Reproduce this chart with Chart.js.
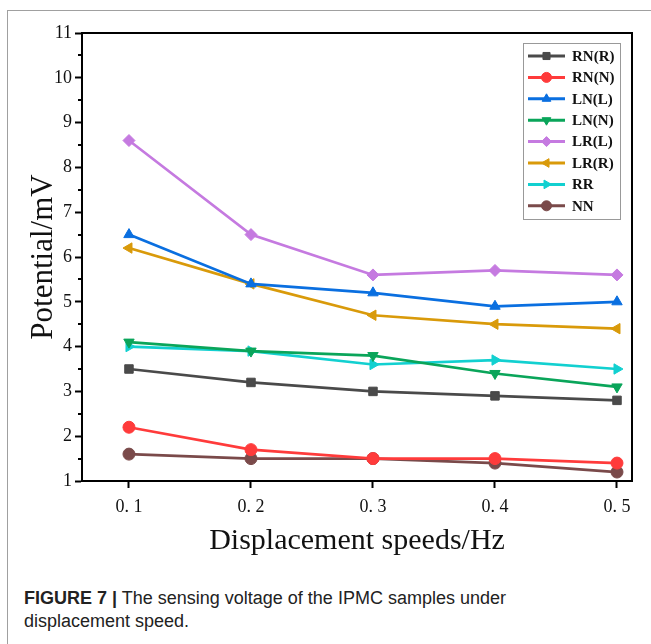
<!DOCTYPE html>
<html>
<head>
<meta charset="utf-8">
<script src="https://cdn.jsdelivr.net/npm/chart.js@4"></script>
<style>
  body { margin: 0; background: #fff; width: 651px; height: 644px; overflow: hidden; position: relative; }
  #card { position: absolute; left: 7px; top: 10px; width: 700px; height: 700px;
          border-left: 1px solid #a0a0a0; border-top: 1px solid #a0a0a0; }
  #wrap { position: absolute; left: 0; top: 0; width: 651px; height: 560px; }
  #caption { position: absolute; left: 24px; top: 587px; font-family: "Liberation Sans", Arial, sans-serif;
             font-size: 18px; line-height: 23px; color: #222; }
  #caption b { font-weight: bold; }
</style>
</head>
<body>
<div id="card"></div>
<div id="wrap"><canvas id="chart" width="651" height="560"></canvas></div>
<div id="caption"><b>FIGURE 7 |</b> The sensing voltage of the IPMC samples under<br>displacement speed.</div>
<script>
// data
var speeds = [0.1, 0.2, 0.3, 0.4, 0.5];
var rnR = [3.5, 3.2, 3.0, 2.9, 2.8];
var rnN = [2.2, 1.7, 1.5, 1.5, 1.4];
var lnL = [6.5, 5.4, 5.2, 4.9, 5.0];
var lnN = [4.1, 3.9, 3.8, 3.4, 3.1];
var lrL = [8.6, 6.5, 5.6, 5.7, 5.6];
var lrR = [6.2, 5.4, 4.7, 4.5, 4.4];
var rr  = [4.0, 3.9, 3.6, 3.7, 3.5];
var nn  = [1.6, 1.5, 1.5, 1.4, 1.2];
var yTicks = [1, 2, 3, 4, 5, 6, 7, 8, 9, 10, 11];
var yMinor = [1.5, 2.5, 3.5, 4.5, 5.5, 6.5, 7.5, 8.5, 9.5, 10.5];

function series(label, values, color, style, rot) {
    return {
        label: label,
        data: values.map(function (v, i) { return { x: speeds[i], y: v }; }),
        borderColor: color,
        backgroundColor: color,
        borderWidth: 2.7,
        pointStyle: style,
        rotation: rot || 0,
        pointRadius: 6,
        pointBorderWidth: 1,
        tension: 0
    };
}

var datasets = [
    series("RN(R)", rnR, "#4a4a4a", "rect"),
    series("RN(N)", rnN, "#ff3b3b", "circle"),
    series("LN(L)", lnL, "#0a6fe0", "triangle"),
    series("LN(N)", lnN, "#0aa55a", "triangle", 180),
    series("LR(L)", lrL, "#c57ae0", "rectRot"),
    series("LR(R)", lrR, "#d99a0a", "triangle", -90),
    series("RR", rr, "#12d0d0", "triangle", 90),
    series("NN", nn, "#7a4a4a", "circle")
];

// frame around the plot, minor ticks, legend box inside it
var framePlugin = {
    id: "frame",
    afterDraw: function (chart) {
        var ctx = chart.ctx, a = chart.chartArea;
        ctx.save();
        ctx.strokeStyle = "#000";
        ctx.lineWidth = 2;
        ctx.strokeRect(a.left, a.top, a.right - a.left, a.bottom - a.top);

        var ys = chart.scales.y;
        ctx.beginPath();
        yMinor.forEach(function (v) {
            var py = Math.round(ys.getPixelForValue(v));
            ctx.moveTo(a.left, py);
            ctx.lineTo(a.left - 4, py);
        });
        ctx.stroke();

        // legend
        var bx = 523, by = 43, bw = 97, bh = 176;
        ctx.fillStyle = "#fff";
        ctx.fillRect(bx, by, bw, bh);
        ctx.strokeStyle = "#999";
        ctx.lineWidth = 1;
        ctx.strokeRect(bx + 0.5, by + 0.5, bw, bh);
        ctx.font = "bold 15px 'Liberation Serif', 'Times New Roman', serif";
        ctx.textBaseline = "middle";
        chart.data.datasets.forEach(function (ds, i) {
            var y = 56 + i * 21.4;
            ctx.strokeStyle = ds.borderColor;
            ctx.lineWidth = 3;
            ctx.beginPath();
            ctx.moveTo(528, y);
            ctx.lineTo(565, y);
            ctx.stroke();
            ctx.fillStyle = ds.borderColor;
            ctx.lineWidth = 1;
            Chart.helpers.drawPoint(ctx, {
                pointStyle: ds.pointStyle, rotation: ds.rotation, radius: 5, borderWidth: 1
            }, 546.5, y);
            ctx.fillStyle = "#111";
            ctx.fillText(ds.label, 572, y + 1);
        });
        ctx.restore();
    }
};

var serif = "'Liberation Serif', 'Times New Roman', serif";

new Chart(document.getElementById("chart"), {
    type: "line",
    data: { datasets: datasets },
    plugins: [framePlugin],
    options: {
        responsive: false,
        animation: false,
        layout: { padding: { left: 0, top: 33, right: 19, bottom: 0 } },
        plugins: { legend: { display: false }, tooltip: { enabled: false } },
        scales: {
            x: {
                type: "linear",
                min: 0.0615,
                max: 0.5123,
                afterBuildTicks: function (s) { s.ticks = speeds.map(function (v) { return { value: v }; }); },
                afterFit: function (s) { s.height = 79; },
                grid: { drawOnChartArea: false, color: "#000", tickLength: 7, tickWidth: 2 },
                border: { color: "#000", width: 2 },
                ticks: {
                    color: "#111",
                    padding: 8,
                    font: { family: serif, size: 18 },
                    callback: function (v) { return v.toFixed(1).replace(".", ". "); }
                },
                title: {
                    display: true,
                    text: "Displacement speeds/Hz",
                    color: "#111",
                    font: { family: serif, size: 30 },
                    padding: { top: 4, bottom: 1 }
                }
            },
            y: {
                min: 1,
                max: 11,
                afterBuildTicks: function (s) { s.ticks = yTicks.map(function (v) { return { value: v }; }); },
                afterFit: function (s) { s.width = 82; },
                grid: { drawOnChartArea: false, color: "#000", tickLength: 7, tickWidth: 2 },
                border: { color: "#000", width: 2 },
                ticks: {
                    color: "#111",
                    padding: 3,
                    font: { family: serif, size: 18 }
                },
                title: {
                    display: true,
                    text: "Potential/mV",
                    color: "#111",
                    font: { family: serif, size: 31 },
                    padding: { top: 25, bottom: 0 }
                }
            }
        }
    }
});
</script>
</body>
</html>
